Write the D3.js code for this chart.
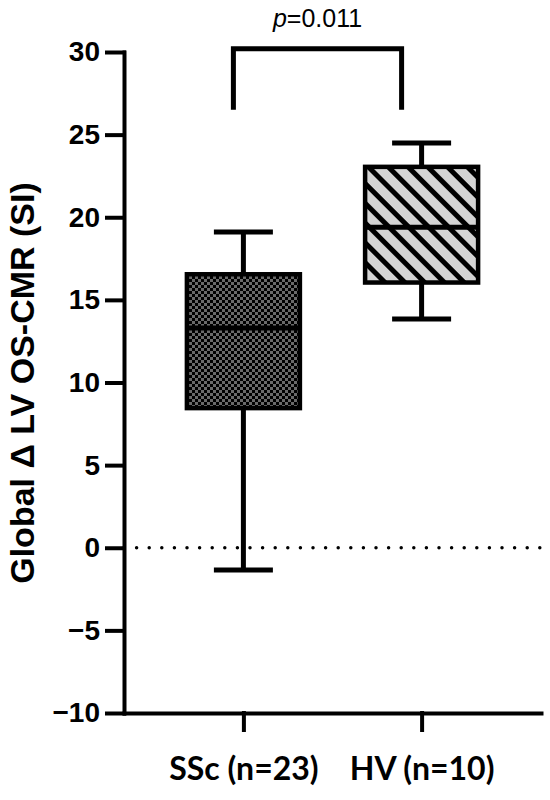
<!DOCTYPE html>
<html lang="en">
<head>
<meta charset="UTF-8">
<title>box</title>
<style>
  body { margin: 0; background: #fff; }
</style>
</head>
<body>
<script src="https://cdn.jsdelivr.net/npm/d3@7"></script>
<script>
const groups = ["SSc (n=23)", "HV (n=10)"];
const mins = [-1.35, 13.85];
const q1s = [8.45, 16.05];
const medians = [13.3, 19.4];
const q3s = [16.55, 23.05];
const maxs = [19.1, 24.5];
const fills = ["url(#checker)", "url(#stripes)"];
const yTicks = [-10, -5, 0, 5, 10, 15, 20, 25, 30];
const pText = "=0.011";
const bracketTop = 30.2, bracketLeg = 26.5;

const width = 550, height = 800;
const svg = d3.select("body").append("svg")
    .attr("width", width).attr("height", height);

const defs = svg.append("defs");
const chk = defs.append("pattern").attr("id", "checker")
    .attr("patternUnits", "userSpaceOnUse").attr("width", 6).attr("height", 6);
chk.append("rect").attr("width", 6).attr("height", 6).attr("fill", "#6a6a6a");
chk.append("rect").attr("width", 3).attr("height", 3).attr("fill", "#000");
chk.append("rect").attr("x", 3).attr("y", 3).attr("width", 3).attr("height", 3).attr("fill", "#000");

const str = defs.append("pattern").attr("id", "stripes")
    .attr("patternUnits", "userSpaceOnUse").attr("width", 14).attr("height", 14)
    .attr("patternTransform", "rotate(-45)");
str.append("rect").attr("width", 14).attr("height", 14).attr("fill", "#d4d4d4");
str.append("rect").attr("width", 5).attr("height", 14).attr("fill", "#000");

const x = d3.scalePoint().domain(groups).range([124, 541]).padding(0.67);
const y = d3.scaleLinear().domain([-10, 30]).range([713, 52]);

const boxW = 113, capW = 59;

// y axis
const yAxis = svg.append("g").attr("transform", "translate(124,0)")
    .call(d3.axisLeft(y).tickValues(yTicks).tickSize(17).tickSizeOuter(0).tickPadding(7)
        .tickFormat(d => d < 0 ? "\u2212" + Math.abs(d) : d));
yAxis.selectAll("path, line").attr("stroke", "#000").attr("stroke-width", 4).attr("stroke-linecap", "square");
yAxis.selectAll("text").attr("font-family", "Liberation Sans, Arial, sans-serif")
    .attr("font-weight", "bold").attr("font-size", 28).attr("fill", "#000");

// x axis
const xAxis = svg.append("g").attr("transform", "translate(0,713)")
    .call(d3.axisBottom(x).tickSize(17).tickSizeOuter(0));
xAxis.selectAll("path, line").attr("stroke", "#000").attr("stroke-width", 4).attr("stroke-linecap", "square");
xAxis.selectAll("text").attr("y", 67).attr("dy", 0)
    .attr("font-family", "Lato, sans-serif").attr("font-weight", "bold")
    .attr("font-size", 32).attr("fill", "#000");

// zero reference line
svg.append("line")
    .attr("x1", 124).attr("x2", 541).attr("y1", y(0)).attr("y2", y(0))
    .attr("stroke", "#000").attr("stroke-width", 3.5)
    .attr("stroke-linecap", "round").attr("stroke-dasharray", "0 12.6");

// boxes
const boxes = svg.append("g").selectAll("g").data(groups).join("g");
boxes.each(function(g, i) {
    const s = d3.select(this), cx = x(g);
    s.append("line").attr("x1", cx).attr("x2", cx).attr("y1", y(maxs[i])).attr("y2", y(q3s[i]));
    s.append("line").attr("x1", cx).attr("x2", cx).attr("y1", y(q1s[i])).attr("y2", y(mins[i]));
    s.append("line").attr("x1", cx - capW / 2).attr("x2", cx + capW / 2).attr("y1", y(maxs[i])).attr("y2", y(maxs[i]));
    s.append("line").attr("x1", cx - capW / 2).attr("x2", cx + capW / 2).attr("y1", y(mins[i])).attr("y2", y(mins[i]));
    s.append("rect").attr("x", cx - boxW / 2).attr("width", boxW)
        .attr("y", y(q3s[i])).attr("height", y(q1s[i]) - y(q3s[i]))
        .attr("fill", fills[i]);
    s.append("line").attr("x1", cx - boxW / 2).attr("x2", cx + boxW / 2).attr("y1", y(medians[i])).attr("y2", y(medians[i]));
});
boxes.selectAll("line").attr("stroke", "#000").attr("stroke-width", 5);
boxes.selectAll("rect").attr("stroke", "#000").attr("stroke-width", 4.5);

// significance bracket
const bx1 = x(groups[0]) - 10, bx2 = x(groups[1]) - 20;
svg.append("path")
    .attr("d", `M${bx1},${y(bracketLeg)}V${y(bracketTop)}H${bx2}V${y(bracketLeg)}`)
    .attr("fill", "none").attr("stroke", "#000").attr("stroke-width", 5);
const pt = svg.append("text").attr("x", (bx1 + bx2) / 2).attr("y", 27)
    .attr("text-anchor", "middle").attr("font-family", "Liberation Sans, Arial, sans-serif")
    .attr("font-size", 25).attr("fill", "#000");
pt.append("tspan").attr("font-style", "italic").text("p");
pt.append("tspan").text(pText);

// y title
svg.append("text")
    .attr("transform", `translate(34,383) rotate(-90)`)
    .attr("text-anchor", "middle")
    .attr("font-family", "Liberation Sans, Arial, sans-serif")
    .attr("font-weight", "bold").attr("font-size", 34).attr("fill", "#000")
    .text("Global \u0394 LV OS-CMR (SI)");
</script>
</body>
</html>
